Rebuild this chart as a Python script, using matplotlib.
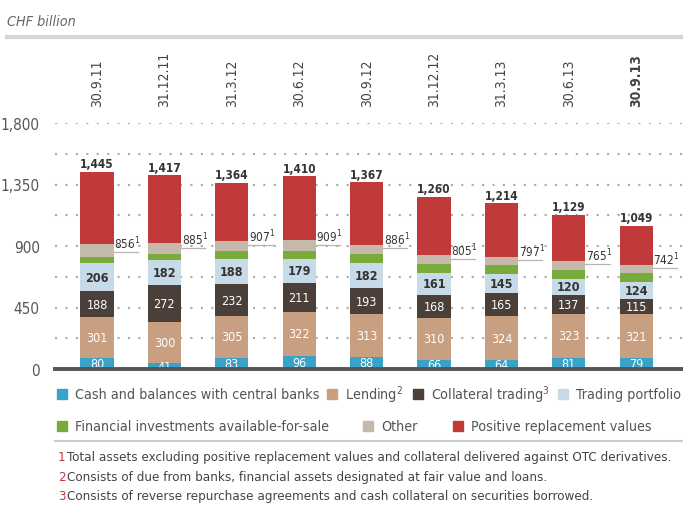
import matplotlib.pyplot as plt
import numpy as np
from matplotlib.lines import Line2D
from matplotlib.patches import Rectangle

plt.rcParams['font.family'] = ['DejaVu Sans']
plt.rcParams['font.stretch'] = 'condensed'

dates = ["30.9.11", "31.12.11", "31.3.12", "30.6.12", "30.9.12",
         "31.12.12", "31.3.13", "30.6.13", "30.9.13"]
cash = [80, 41, 83, 96, 88, 66, 64, 81, 79]
lending = [301, 300, 305, 322, 313, 310, 324, 323, 321]
collateral = [188, 272, 232, 211, 193, 168, 165, 137, 115]
trading = [206, 182, 188, 179, 182, 161, 145, 120, 124]
afs = [48, 50, 53, 54, 66, 61, 61, 61, 61]
other = [95, 78, 75, 82, 68, 66, 63, 66, 61]
totals = [1445, 1417, 1364, 1410, 1367, 1260, 1214, 1129, 1049]
prv = [t - (a + b + c + d + e + f) for t, a, b, c, d, e, f in
       zip(totals, cash, lending, collateral, trading, afs, other)]
excl = [856, 885, 907, 909, 886, 805, 797, 765, 742]

series = [
    ("Cash and balances with central banks", cash, "#3aa2c8", "white"),
    ("Lending", lending, "#c8a081", "white"),
    ("Collateral trading", collateral, "#4b4039", "white"),
    ("Trading portfolio", trading, "#c6dae7", "#333333"),
    ("Financial investments available-for-sale", afs, "#78aa3c", None),
    ("Other", other, "#c4b9ab", None),
    ("Positive replacement values", prv, "#c13a3a", None),
]

W, H = 683, 506
fig = plt.figure(figsize=(W / 100, H / 100), dpi=100)
ax = fig.add_axes([55 / W, 1 - 370 / H, 628 / W, 246 / H])

x = np.arange(len(dates))
bw = 0.49
bottom = np.zeros(len(dates))
for name, vals, col, tcol in series:
    ax.bar(x, vals, bw, bottom=bottom, color=col, zorder=3)
    if tcol:
        for xi, b, v in zip(x, bottom, vals):
            ax.text(xi, b + v / 2, str(v), ha='center', va='center',
                    fontsize=9, color=tcol, zorder=4,
                    fontweight='bold' if tcol != 'white' else 'normal')
    bottom += np.array(vals)

for xi, t in zip(x, totals):
    ax.text(xi, t + 10, f"{t:,}", ha='center', va='bottom', fontsize=8.5,
            fontweight='bold', color='#333333', zorder=4)

for xi, e in zip(x, excl):
    x0 = xi + bw / 2
    ax.plot([x0, x0 + 0.36], [e, e], color='#bdb3a8', lw=0.9, zorder=2)
    ax.text(x0 + 0.01, e + 5, f"{e}$^1$", ha='left', va='bottom',
            fontsize=8.5, color='#333333', zorder=4)

ax.set_xlim(-0.623, 8.694)
ax.set_ylim(0, 1800)
ax.set_yticks([0, 450, 900, 1350, 1800])
ax.set_yticklabels(["0", "450", "900", "1,350", "1,800"])
ax.set_yticks([225, 675, 1125, 1575], minor=True)
ax.tick_params(axis='y', which='both', length=0, pad=11, labelsize=11,
               labelcolor='#555555')
ax.set_xticks([])
ax.grid(axis='y', which='both', linestyle=(0, (1, 4)), color='#aaaaaa',
        lw=1.5, zorder=0)
for s in ['top', 'right', 'left']:
    ax.spines[s].set_visible(False)
ax.spines['bottom'].set_color('#555555')
ax.spines['bottom'].set_linewidth(2.8)
ax.spines['bottom'].set_zorder(5)

for i, d in enumerate(dates):
    ax.text(i, 1.069, d, transform=ax.get_xaxis_transform(), rotation=90,
            ha='center', va='bottom', fontsize=10, color='#444444',
            fontweight='bold' if i == len(dates) - 1 else 'normal')

fig.text(7 / W, 1 - 22 / H, "CHF billion", fontsize=10.3, style='italic',
         color='#666666', va='center')
fig.add_artist(Line2D([7 / W, 1], [1 - 38 / H] * 2, color='#d6d6d6', lw=3))

legend_items = [
    (0, 57, 395), (1, 327, 395), (2, 413, 395), (3, 558, 395),
    (4, 57, 427), (5, 363, 427), (6, 453, 427),
]
sups = {1: "$^2$", 2: "$^3$"}
for idx, lx, ly in legend_items:
    name, _, col, _ = series[idx]
    fig.add_artist(Rectangle((lx / W, 1 - (ly + 5) / H), 10 / W, 10 / H,
                             color=col, transform=fig.transFigure))
    fig.text((lx + 18) / W, 1 - ly / H, name + sups.get(idx, ""),
             fontsize=10.3, color='#555555', va='center')
fig.add_artist(Line2D([55 / W, 1], [1 - 442 / H] * 2, color='#cccccc', lw=1.5))

notes = [
    "Total assets excluding positive replacement values and collateral delivered against OTC derivatives.",
    "Consists of due from banks, financial assets designated at fair value and loans.",
    "Consists of reverse repurchase agreements and cash collateral on securities borrowed.",
]
for k, n in enumerate(notes):
    yy = 1 - (458 + k * 19.5) / H
    fig.text(58 / W, yy, str(k + 1), fontsize=9.6, color='#c13a3a', va='center')
    fig.text(67 / W, yy, n, fontsize=9.6, color='#444444', va='center')

fig.savefig("out.png", dpi=100)
